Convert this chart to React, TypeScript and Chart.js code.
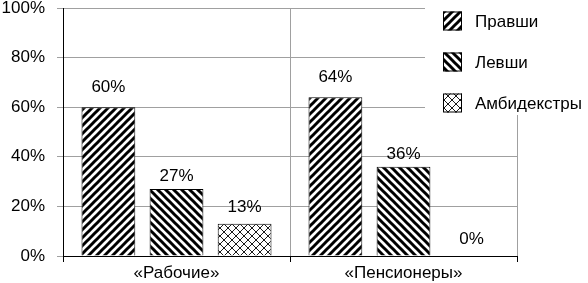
import React, { useEffect, useRef } from "react";
import { Chart, registerables } from "chart.js";

Chart.register(...registerables);

const categories = ["«Рабочие»", "«Пенсионеры»"];
const seriesNames = ["Правши", "Левши", "Амбидекстры"];
const rightHanded = [60, 64];
const leftHanded = [27, 36];
const ambidextrous = [13, 0];
const yTicks = [0, 20, 40, 60, 80, 100];

const FONT = "'Liberation Sans', Arial, sans-serif";

function makePattern(kind: string): CanvasPattern | string {
  const s = 8;
  const c = document.createElement("canvas");
  c.width = s;
  c.height = s;
  const g = c.getContext("2d");
  if (!g) return "#fff";
  g.fillStyle = "#fff";
  g.fillRect(0, 0, s, s);
  g.strokeStyle = "#000";
  const seg = (x1: number, y1: number, x2: number, y2: number) => {
    g.beginPath();
    g.moveTo(x1, y1);
    g.lineTo(x2, y2);
    g.stroke();
  };
  if (kind === "fwd") {
    g.lineWidth = 3;
    seg(-2, s + 2, s + 2, -2);
    seg(-2, 2, 2, -2);
    seg(s - 2, s + 2, s + 2, s - 2);
  } else if (kind === "back") {
    g.lineWidth = 3;
    seg(-2, -2, s + 2, s + 2);
    seg(-2, s - 2, 2, s + 2);
    seg(s - 2, -2, s + 2, 2);
  } else {
    g.lineWidth = 0.9;
    seg(-1, -1, s + 1, s + 1);
    seg(-1, s + 1, s + 1, -1);
  }
  const ctx = document.createElement("canvas").getContext("2d");
  const p = ctx ? ctx.createPattern(c, "repeat") : null;
  return p || "#000";
}

export default function App() {
  const ref = useRef<HTMLCanvasElement | null>(null);

  useEffect(() => {
    document.body.style.margin = "0";
    const canvas = ref.current;
    if (!canvas) return;
    const patterns = [makePattern("fwd"), makePattern("back"), makePattern("cross")];
    const values = [rightHanded, leftHanded, ambidextrous];
    const labelGaps = [11, 4, 8];

    const labelsPlugin = {
      id: "valueLabels",
      afterDatasetsDraw(chart: any) {
        const ctx = chart.ctx;
        ctx.save();
        ctx.font = `17px ${FONT}`;
        ctx.fillStyle = "#000";
        ctx.textAlign = "center";
        ctx.textBaseline = "bottom";
        chart.data.datasets.forEach((ds: any, di: number) => {
          const meta = chart.getDatasetMeta(di);
          meta.data.forEach((el: any, i: number) => {
            ctx.fillText(`${ds.data[i]}%`, el.x, el.y - labelGaps[di]);
          });
        });
        ctx.restore();
      },
    };

    const legendPlugin = {
      id: "sideLegend",
      afterDraw(chart: any) {
        const ctx = chart.ctx;
        ctx.save();
        ctx.fillStyle = "#fff";
        ctx.fillRect(425, 0, 163, 115);
        ctx.font = `17px ${FONT}`;
        ctx.textBaseline = "middle";
        ctx.textAlign = "left";
        seriesNames.forEach((name, i) => {
          const cy = 21 + i * 41;
          ctx.fillStyle = patterns[i] as any;
          ctx.fillRect(443, cy - 9.5, 19, 19);
          ctx.strokeStyle = "#000";
          ctx.lineWidth = 1;
          ctx.strokeRect(443.5, cy - 9, 18, 18);
          ctx.fillStyle = "#000";
          ctx.fillText(name, 475, cy + 1);
        });
        ctx.restore();
      },
    };

    const chart = new Chart(canvas, {
      type: "bar",
      data: {
        labels: categories,
        datasets: seriesNames.map((name, i) => ({
          label: name,
          data: values[i],
          backgroundColor: patterns[i] as any,
          borderColor: "#000",
          borderWidth: 1,
          categoryPercentage: 0.9,
          barPercentage: 0.79,
        })),
      },
      options: {
        responsive: false,
        animation: false,
        layout: { padding: { top: 0, right: 71, left: 0, bottom: 0 } },
        plugins: {
          legend: { display: false },
          tooltip: { enabled: false },
        },
        scales: {
          y: {
            min: 0,
            max: 100,
            afterBuildTicks(scale: any) {
              scale.ticks = yTicks.map((v) => ({ value: v }));
            },
            afterFit(scale: any) {
              scale.width = 63;
              scale.paddingTop = 8;
              scale.paddingBottom = 0;
            },
            ticks: {
              callback: (v: any) => `${v}%`,
              font: { family: FONT, size: 17 },
              color: "#000",
              padding: 12,
            },
            grid: { color: "#a0a0a0", tickColor: "#a0a0a0", tickLength: 6 },
            border: { color: "#000", width: 1 },
          },
          x: {
            afterFit(scale: any) {
              scale.height = 27;
              scale.paddingLeft = 0;
              scale.paddingRight = 0;
            },
            ticks: {
              font: { family: FONT, size: 17 },
              color: "#000",
              padding: 1,
            },
            grid: { offset: true, color: "#a0a0a0", tickColor: "#000", tickLength: 6 },
            border: { color: "#000", width: 1 },
          },
        },
      },
      plugins: [labelsPlugin, legendPlugin],
    });
    return () => chart.destroy();
  }, []);

  return (
    <div style={{ width: 588, height: 283 }}>
      <canvas ref={ref} width={588} height={283} />
    </div>
  );
}
